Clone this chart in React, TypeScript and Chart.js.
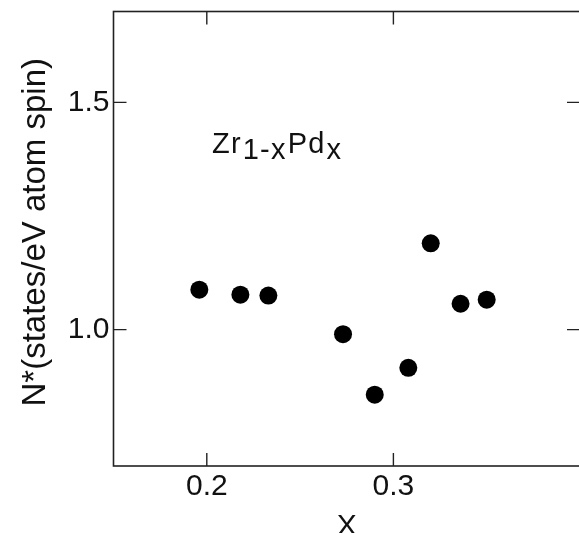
import React, { useEffect, useRef } from "react";
import { Chart, registerables } from "chart.js";
Chart.register(...registerables);

const xValues = [0.196, 0.218, 0.233, 0.273, 0.29, 0.308, 0.32, 0.336, 0.35];
const yValues = [1.088, 1.077, 1.075, 0.99, 0.857, 0.916, 1.19, 1.057, 1.066];
const xTicks = [0.2, 0.3];
const yTicks = [1.0, 1.5];
const xRange = [0.15, 0.4];
const yRange = [0.7, 1.7];
const xTitle = "X";
const yTitle = "N*(states/eV atom spin)";
const labelParts = ["Zr", "1-x", "Pd", "x"];
const labelAnchor = { x: 0.2028, y: 1.389 };

const FONT = "'Liberation Sans', Arial, Helvetica, sans-serif";
const INK = "#111";

const framePlugin = {
  id: "frame",
  beforeDatasetsDraw(chart: any) {
    const { ctx, chartArea } = chart;
    const { left, right, top, bottom } = chartArea;
    const xs = chart.scales.x;
    const ys = chart.scales.y;
    const tl = 13;
    ctx.save();
    ctx.strokeStyle = "#222";
    ctx.lineWidth = 1.6;
    ctx.strokeRect(left, top, right - left, bottom - top);
    ctx.lineWidth = 1.4;
    ctx.beginPath();
    for (const v of xTicks) {
      const px = xs.getPixelForValue(v);
      ctx.moveTo(px, bottom);
      ctx.lineTo(px, bottom - tl);
      ctx.moveTo(px, top);
      ctx.lineTo(px, top + tl);
    }
    for (const v of yTicks) {
      const py = ys.getPixelForValue(v);
      ctx.moveTo(left, py);
      ctx.lineTo(left + tl, py);
      ctx.moveTo(right, py);
      ctx.lineTo(right - tl, py);
    }
    ctx.stroke();
    ctx.restore();
  },
  afterDraw(chart: any) {
    const { ctx, chartArea } = chart;
    const xs = chart.scales.x;
    const ys = chart.scales.y;
    // compound label
    let px = xs.getPixelForValue(labelAnchor.x);
    const py = ys.getPixelForValue(labelAnchor.y);
    ctx.save();
    ctx.fillStyle = INK;
    ctx.font = `29px ${FONT}`;
    try {
      (ctx as any).letterSpacing = "1.2px";
    } catch (e) {}
    ctx.textBaseline = "alphabetic";
    ctx.textAlign = "left";
    labelParts.forEach((t, i) => {
      const dy = i % 2 === 1 ? 6 : 0;
      ctx.fillText(t, px, py + dy);
      px += ctx.measureText(t).width + 1;
    });
    ctx.restore();
    // y axis title
    ctx.save();
    ctx.fillStyle = INK;
    ctx.font = `33px ${FONT}`;
    ctx.textAlign = "center";
    ctx.textBaseline = "alphabetic";
    const cy = (chartArea.top + chartArea.bottom) / 2 - 6.5;
    ctx.translate(45, cy);
    ctx.rotate(-Math.PI / 2);
    ctx.fillText(yTitle, 0, 0);
    ctx.restore();
  },
};

export default function App() {
  const ref = useRef<HTMLCanvasElement | null>(null);
  useEffect(() => {
    if (!ref.current) return;
    const chart = new Chart(ref.current, {
      type: "scatter",
      data: {
        datasets: [
          {
            data: xValues.map((x, i) => ({ x, y: yValues[i] })),
            backgroundColor: "#000",
            borderWidth: 0,
            pointRadius: 9,
            pointHoverRadius: 9,
            showLine: false,
          },
        ],
      },
      options: {
        responsive: false,
        animation: false,
        events: [],
        layout: { padding: { left: 0, top: 11.5, right: 20, bottom: 0 } },
        plugins: { legend: { display: false }, tooltip: { enabled: false } },
        scales: {
          x: {
            type: "linear",
            min: xRange[0],
            max: xRange[1],
            afterBuildTicks: (s: any) => {
              s.ticks = xTicks.map((v) => ({ value: v }));
            },
            afterFit: (s: any) => {
              s.height = 79;
              s.paddingLeft = 0;
              s.paddingRight = 0;
            },
            grid: { display: false, drawTicks: false },
            border: { display: false },
            ticks: {
              color: INK,
              font: { size: 30, family: FONT },
              padding: 3,
              maxRotation: 0,
              autoSkip: false,
              callback: (v: any) => Number(v).toFixed(1),
            },
            title: {
              display: true,
              text: xTitle,
              color: INK,
              font: { size: 30, family: FONT },
              padding: { top: 5, bottom: 0 },
            },
          },
          y: {
            type: "linear",
            min: yRange[0],
            max: yRange[1],
            afterBuildTicks: (s: any) => {
              s.ticks = yTicks.map((v) => ({ value: v }));
            },
            afterFit: (s: any) => {
              s.width = 113.5;
              s.paddingTop = 0;
              s.paddingBottom = 0;
            },
            grid: { display: false, drawTicks: false },
            border: { display: false },
            ticks: {
              color: INK,
              font: { size: 30, family: FONT },
              padding: 4,
              autoSkip: false,
              callback: (v: any) => Number(v).toFixed(1),
            },
            title: { display: false },
          },
        },
      },
      plugins: [framePlugin],
    });
    return () => chart.destroy();
  }, []);
  return (
    <div
      style={{
        position: "fixed",
        left: 0,
        top: 0,
        width: 579,
        height: 533,
        overflow: "hidden",
        background: "#fff",
      }}
    >
      <canvas ref={ref} width={600} height={545} style={{ display: "block" }} />
    </div>
  );
}
